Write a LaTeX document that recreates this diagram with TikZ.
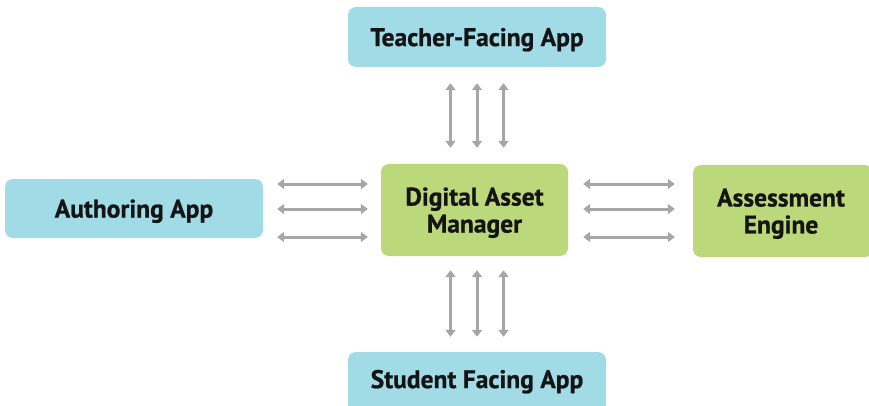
\documentclass[tikz,border=0pt]{standalone}
\usepackage{fontspec}
\setmainfont{PT Sans}[BoldFeatures={FakeBold=0.8}]
\usetikzlibrary{arrows.meta}
\definecolor{appblue}{RGB}{160,219,230}
\definecolor{dgreen}{RGB}{187,216,122}
\definecolor{arrgray}{RGB}{166,166,166}
\definecolor{txt}{RGB}{20,20,20}
\tikzset{
  box/.style={rounded corners=8pt, inner sep=0pt, text depth=0pt, font=\bfseries\fontsize{25.5}{27}\selectfont, text=txt, align=center},
  bluebox/.style={box, fill=appblue},
  greenbox/.style={box, fill=dgreen},
  biarrow/.style={draw=arrgray, line width=3pt, {Triangle[width=10pt,length=7pt]}-{Triangle[width=10pt,length=7pt]}},
}
\begin{document}
\begin{tikzpicture}[x=1pt,y=-1pt]
\useasboundingbox (0,0) rectangle (869,406);
\clip (0,0) rectangle (869,406);
\node[bluebox, minimum width=258pt, minimum height=60pt] (teacher) at (477,37) {Teacher-Facing App};
\node[bluebox, minimum width=258pt, minimum height=59pt] (author) at (134,208.5) {Authoring App};
\node[greenbox, minimum width=187pt, minimum height=92pt] (dam) at (474.5,210) {Digital Asset\\Manager};
\node[greenbox, minimum width=180pt, minimum height=92pt] (assess) at (783,211) {};
\node[box] (assesslabel) at (781,211) {Assessment\\Engine};
\node[bluebox, minimum width=258pt, minimum height=70pt] (student) at (477,387) {};
\node[box] (studentlabel) at (477,379) {Student Facing App};
% vertical
\foreach \dx in {-26.5,0,26.5}{
  \draw[biarrow] ([xshift=\dx pt, yshift=-16pt]teacher.south) -- ([xshift=\dx pt, yshift=16pt]dam.north -| teacher.south);
  \draw[biarrow] ([xshift=\dx pt, yshift=-14pt]dam.south -| teacher.south) -- ([xshift=\dx pt, yshift=15pt]student.north);
}
% horizontal
\foreach \dy in {-27,1,26}{
  \draw[biarrow] ([xshift=14pt, yshift=\dy pt]author.east |- dam.center) -- ([xshift=-13pt, yshift=\dy pt]dam.west);
  \draw[biarrow] ([xshift=15pt, yshift=\dy pt]dam.east) -- ([xshift=-18pt, yshift=\dy pt]assess.west |- dam.center);
}
\end{tikzpicture}
\end{document}
